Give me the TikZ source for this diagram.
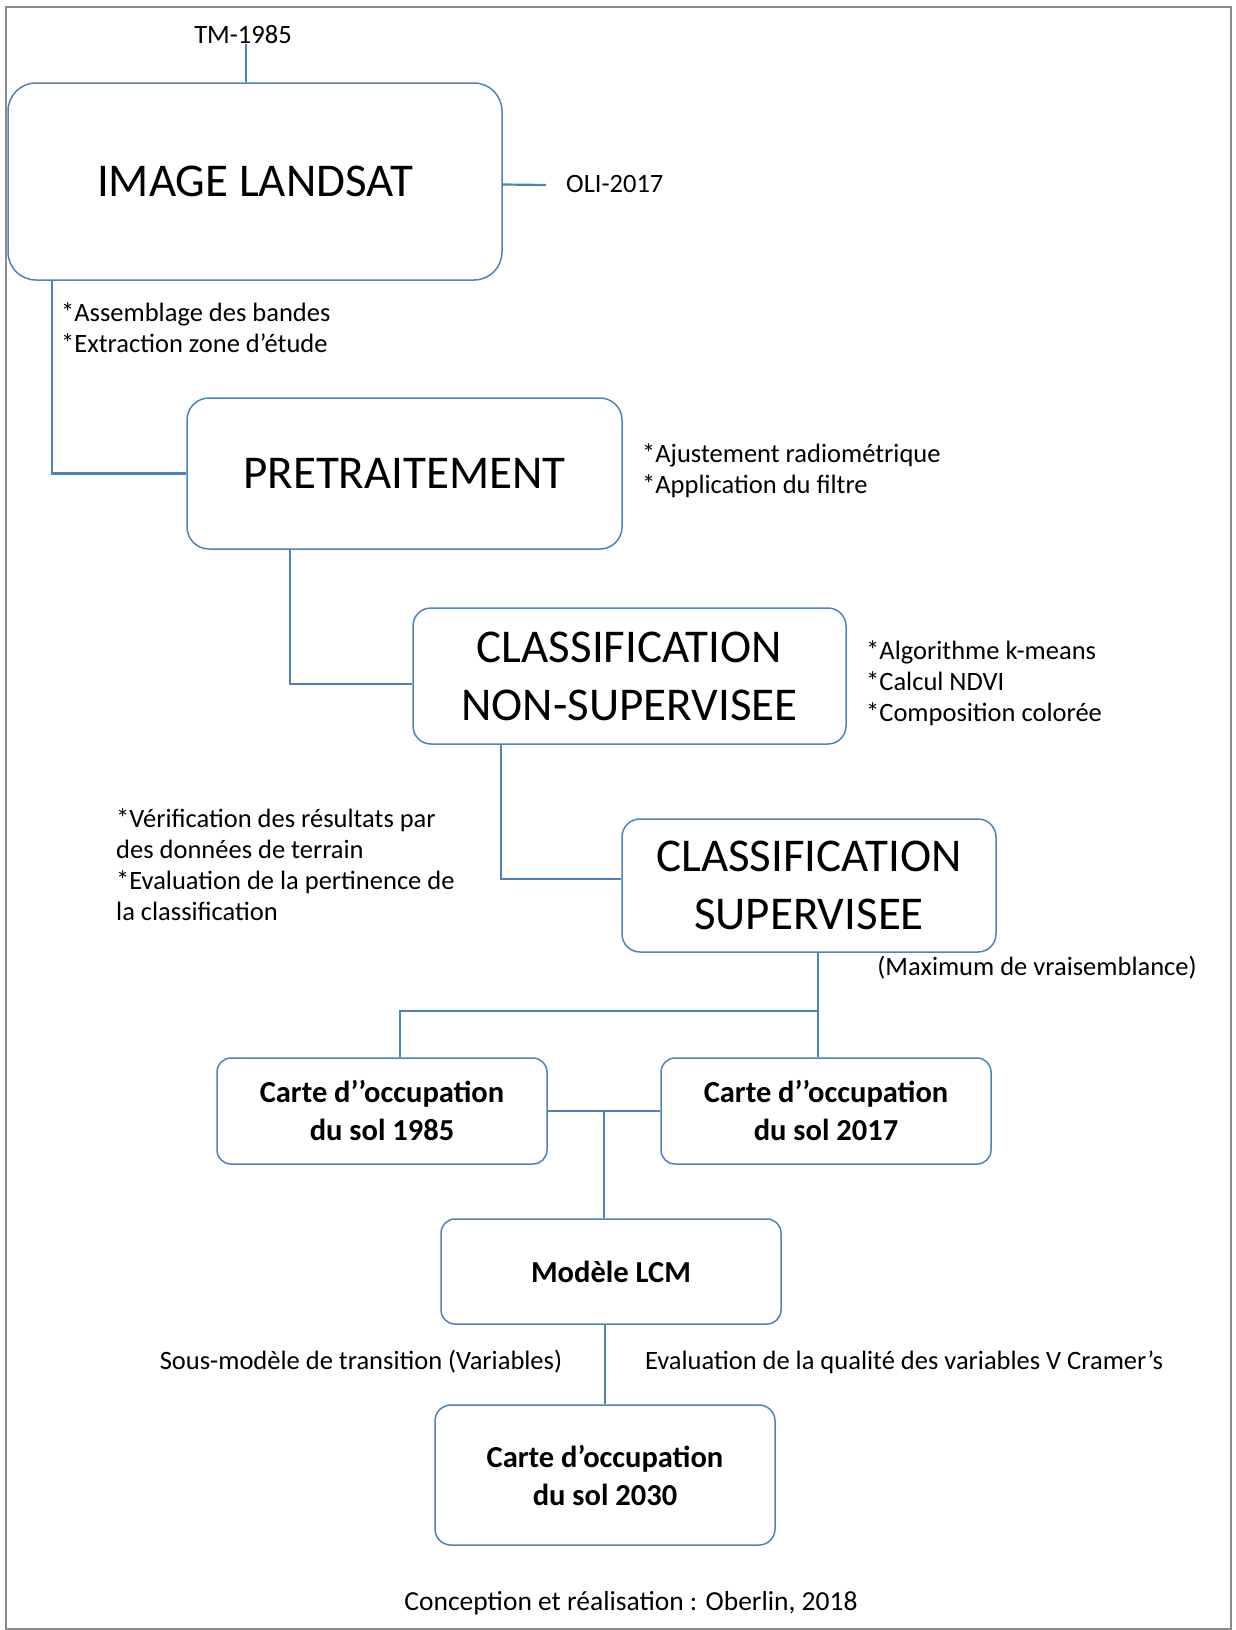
\documentclass[tikz,border=0pt]{standalone}
\usepackage{fontspec}
\setmainfont{Carlito}
\definecolor{lblue}{HTML}{4F81BD}
\definecolor{framegray}{HTML}{8C8C8C}
\begin{document}
\begin{tikzpicture}[x=1pt,y=-1pt,
  box/.style={draw=lblue, line width=1.5pt, rounded corners=18pt, align=center, inner sep=0pt},
  big/.style={font=\fontsize{47}{58}\selectfont},
  mid/.style={font=\bfseries\fontsize{30.5}{38}\selectfont},
  note/.style={font=\fontsize{26.5}{31}\selectfont, align=left, inner sep=0pt},
  conn/.style={draw=lblue, line width=2.2pt}]
\useasboundingbox (0,0) rectangle (1236,1630);
\draw[framegray, line width=1.2pt] (6,7) rectangle (1231,1629);

% boxes
\node[box,big,minimum width=494pt,minimum height=197pt,rounded corners=28pt] (landsat) at (255,181.5) {IMAGE LANDSAT};
\node[box,big,minimum width=435pt,minimum height=151pt,rounded corners=22pt] (pre) at (404.5,473.5) {PRETRAITEMENT};
\node[box,big,minimum width=433pt,minimum height=136pt] (ns) at (629.5,676) {CLASSIFICATION\\NON-SUPERVISEE};
\node[box,big,minimum width=374pt,minimum height=133pt] (sup) at (809,885.5) {CLASSIFICATION\\SUPERVISEE};
\node[box,mid,minimum width=330pt,minimum height=106pt,rounded corners=14pt] (c85) at (382,1111) {Carte d’’occupation\\du sol 1985};
\node[box,mid,minimum width=330pt,minimum height=106pt,rounded corners=14pt] (c17) at (826,1111) {Carte d’’occupation\\du sol 2017};
\node[box,mid,minimum width=340pt,minimum height=105pt,rounded corners=14pt] (lcm) at (611,1271.5) {Modèle LCM};
\node[box,mid,minimum width=340pt,minimum height=140pt,rounded corners=16pt] (c30) at (605,1475) {Carte d’occupation\\du sol 2030};

% notes
\node[note] (tm) at (243,35) {TM-1985};
\node[note,anchor=west] (oli) at (566,184) {OLI-2017};
\node[note,anchor=west] (asm) at (61,328) {*Assemblage des bandes\\*Extraction zone d’étude};
\node[note,anchor=west] (ajust) at (642,471) {*Ajustement radiométrique\\*Application du filtre};
\node[note,anchor=west] (kmeans) at (866,683.5) {*Algorithme k-means\\*Calcul NDVI\\*Composition colorée};
\node[note,anchor=west] (verif) at (116,864.5) {*Vérification des résultats par\\des données de terrain\\*Evaluation de la pertinence de\\la classification};
\node[note] (maxv) at (1037,968) {(Maximum de vraisemblance)};
\node[note] (sous) at (361,1362) {Sous-modèle de transition (Variables)};
\node[note] (evalq) at (904,1362) {Evaluation de la qualité des variables V Cramer’s};
\node[note,font=\fontsize{27.5}{32}\selectfont] (credit) at (631,1603) {Conception et réalisation : Oberlin, 2018};

% connectors
\draw[conn] ([xshift=3pt]tm.south) -- ([xshift=3pt]tm.south |- landsat.north);
\draw[conn] ([yshift=-3pt]landsat.east) -- ([xshift=-20pt,yshift=-1pt]oli.west);
\draw[conn] ([xshift=45pt]landsat.south west) |- (pre.west);
\draw[conn] ([xshift=104pt]pre.south west) |- ([yshift=-8pt]ns.west);
\draw[conn] ([xshift=89pt]ns.south west) |- ([yshift=6.5pt]sup.west);
\coordinate (j1) at (818,1011);
\draw[conn] (sup.south -| j1) -- (j1) -- (j1 |- c17.north);
\draw[conn] (j1) -| ([xshift=18pt]c85.north);
\draw[conn] (c85.east) -- (c17.west);
\coordinate (j2) at (604,1111);
\draw[conn] (j2) -- (j2 |- lcm.north);
\draw[conn] (c30.north |- lcm.south) -- (c30.north);
\end{tikzpicture}
\end{document}
